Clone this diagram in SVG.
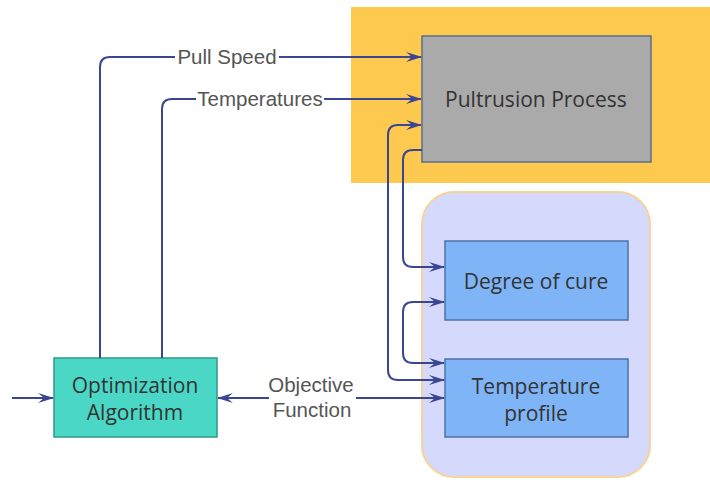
<svg xmlns="http://www.w3.org/2000/svg" width="710" height="483" viewBox="0 0 710 483">
<defs>
<marker id="arr" viewBox="0 0 16 11" refX="15" refY="5.5" markerWidth="16" markerHeight="11" markerUnits="userSpaceOnUse" orient="auto-start-reverse">
<path d="M0,0.5 L16,5.5 L0,10.5 L6,5.5 Z" fill="#3b4693"/>
</marker>
</defs>
<style>
.conn{fill:none;stroke:#3b4693;stroke-width:2}
.lbl{font-family:"Liberation Sans",Arial,sans-serif;font-size:20.5px;fill:#555555;text-anchor:middle}
.box{font-family:"Open Sans","Noto Sans",sans-serif;font-size:21px;fill:#333333;text-anchor:middle}
</style>
<rect width="710" height="483" fill="#ffffff"/>
<g id="pultrusion-area">
<rect x="351" y="7" width="359" height="176" fill="#fdc94f"/>
</g>
<g id="model-area">
<rect x="422" y="192" width="228" height="285" rx="32" fill="#d5d9fc" stroke="#f6d398" stroke-width="2"/>
</g>
<g id="pultrusion-process">
<rect x="422" y="36" width="229" height="126" fill="#aaaaaa" stroke="#5a6f8a" stroke-width="1.5"/>
<text class="box" x="536" y="107">Pultrusion Process</text>
</g>
<g id="degree-of-cure">
<rect x="445" y="241" width="183" height="79" fill="#7fb5f6" stroke="#4d70a8" stroke-width="1.5"/>
<text class="box" x="536" y="289">Degree of cure</text>
</g>
<g id="temperature-profile">
<rect x="445" y="359" width="183" height="78" fill="#7fb5f6" stroke="#4d70a8" stroke-width="1.5"/>
<text class="box" x="536" y="394">Temperature</text>
<text class="box" x="536" y="421">profile</text>
</g>
<g id="optimization-algorithm">
<rect x="54" y="358" width="163" height="79" fill="#4bd7c6" stroke="#2e9a88" stroke-width="1.5"/>
<text class="box" x="135" y="393">Optimization</text>
<text class="box" x="135" y="420">Algorithm</text>
</g>
<g id="connectors">
<path class="conn" d="M100,358 V67 Q100,57 110,57 H175"/>
<path class="conn" d="M279,57 H421" marker-end="url(#arr)"/>
<path class="conn" d="M162,358 V109 Q162,99 172,99 H196"/>
<path class="conn" d="M324,99 H421" marker-end="url(#arr)"/>
<path class="conn" d="M421,125 H398 Q388,125 388,135 V370 Q388,380 398,380 H444" marker-start="url(#arr)" marker-end="url(#arr)"/>
<path class="conn" d="M422,150 H413 Q403,150 403,160 V257 Q403,267 413,267 H444" marker-end="url(#arr)"/>
<path class="conn" d="M444,302 H413 Q403,302 403,312 V353 Q403,363 413,363 H444" marker-start="url(#arr)" marker-end="url(#arr)"/>
<path class="conn" d="M218,398 H269" marker-start="url(#arr)"/>
<path class="conn" d="M356,398 H444" marker-end="url(#arr)"/>
<path class="conn" d="M12,398 H53" marker-end="url(#arr)"/>
<text class="lbl" x="227" y="64">Pull Speed</text>
<text class="lbl" x="260" y="106">Temperatures</text>
<text class="lbl" x="311" y="392">Objective</text>
<text class="lbl" x="312" y="417">Function</text>
</g>
</svg>
